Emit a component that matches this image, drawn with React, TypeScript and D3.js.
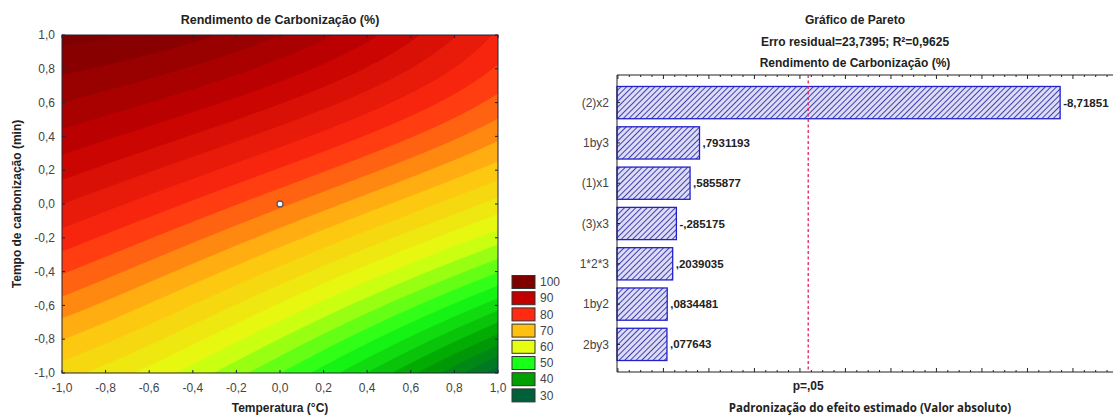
import React, { useMemo } from 'react';
import * as d3 from 'd3';

const W = 1113;
const H = 418;

// surface values at T = -1, 0, 1 (columns) and t = 1, 0, -1 (rows)
const surfaceTop = [101, 95, 82];
const surfaceMid = [85, 75.5, 64];
const surfaceBottom = [66, 52.5, 31];
const legendLevels = [100, 90, 80, 70, 60, 50, 40, 30];
const legendColors = ['#800000', '#c20000', '#ff2a10', '#ffc010', '#e4ff10', '#18ff18', '#00a000', '#00603a'];
const axisTicks = [-1, -0.8, -0.6, -0.4, -0.2, 0, 0.2, 0.4, 0.6, 0.8, 1];
const centerPoint = [0, 0];

const paretoLabels = ['(2)x2', '1by3', '(1)x1', '(3)x3', '1*2*3', '1by2', '2by3'];
const paretoValues = [-8.71851, 0.7931193, 0.5855877, -0.285175, 0.2039035, 0.0834481, 0.077643];
const pCritical = 3.182;
const paretoDomain = [-1.02, 10.1];
const paretoTitles = ['Gráfico de Pareto', 'Erro residual=23,7395; R²=0,9625', 'Rendimento de Carbonização (%)'];

const FONT = '"Liberation Sans", Arial, sans-serif';

// quadratic Lagrange weights for nodes -1, 0, 1
function lw(x: number) {
  return [(x * (x - 1)) / 2, 1 - x * x, (x * (x + 1)) / 2];
}

function surface(T: number, t: number) {
  const rows = [surfaceBottom, surfaceMid, surfaceTop]; // t = -1, 0, 1
  const wt = lw(t);
  const wT = lw(T);
  let s = 0;
  for (let a = 0; a < 3; a++) for (let b = 0; b < 3; b++) s += wt[a] * wT[b] * rows[a][b];
  return s;
}

function fmtTick(v: number) {
  return d3.format('.1f')(v).replace('−', '-').replace('.', ',');
}

function statFmt(v: number) {
  const neg = v < 0;
  let s = String(Math.abs(v));
  if (s.startsWith('0.')) s = s.slice(1);
  s = s.replace('.', ',');
  return (neg ? '-' : '') + s;
}

export default function App() {
  // ---------- left: contour plot ----------
  const L = { x0: 62, x1: 498, y0: 35, y1: 373 };
  const xs = d3.scaleLinear().domain([-1, 1]).range([L.x0, L.x1]);
  const ys = d3.scaleLinear().domain([-1, 1]).range([L.y1, L.y0]);

  const color = d3
    .scaleLinear<string>()
    .domain([...legendLevels].reverse())
    .range([...legendColors].reverse())
    .interpolate(d3.interpolateRgb)
    .clamp(true);

  const bands = useMemo(() => {
    const n = 160;
    const m = 160;
    const vals = new Array(n * m);
    for (let j = 0; j < m; j++) {
      const t = 1 - (2 * (j + 0.5)) / m;
      for (let i = 0; i < n; i++) {
        const T = -1 + (2 * (i + 0.5)) / n;
        vals[j * n + i] = surface(T, t);
      }
    }
    const step = 2.5;
    const th = d3.range(0, 130, step);
    const cs = d3.contours().size([n, m]).thresholds(th)(vals);
    const w = L.x1 - L.x0;
    const h = L.y1 - L.y0;
    const proj = d3.geoTransform({
      point: function (x: number, y: number) {
        (this as any).stream.point(L.x0 + (x * w) / n, L.y0 + (y * h) / m);
      },
    });
    const path = d3.geoPath(proj);
    return cs.map((c) => ({ d: path(c as any) || '', fill: color(c.value + step / 2) }));
  }, []);

  // ---------- right: pareto ----------
  const P = { x0: 617, x1: 1123, y0: 75, y1: 372 };
  const px = d3.scaleLinear().domain(paretoDomain).range([P.x0, P.x1]);
  const py = d3
    .scaleBand<string>()
    .domain(paretoLabels)
    .range([P.y0, P.y1])
    .paddingInner(0.2)
    .paddingOuter(0.285);
  const majorTicks = d3.range(-1, 11, 1);
  const minorTicks = d3.range(-1, 10.5, 0.25).filter((v) => Math.abs(v - Math.round(v)) > 1e-6);
  const tcx = (P.x0 + P.x1) / 2;

  return (
    <div style={{ position: 'absolute', left: 0, top: 0 }}>
      <svg width={W} height={H} style={{ display: 'block', background: '#fff' }}>
        <defs>
          <clipPath id="plotClip">
            <rect x={L.x0} y={L.y0} width={L.x1 - L.x0} height={L.y1 - L.y0} />
          </clipPath>
          <clipPath id="svgClip">
            <rect x={0} y={0} width={W} height={H} />
          </clipPath>
          <pattern id="hatch" patternUnits="userSpaceOnUse" width="4" height="4" patternTransform="rotate(45)">
            <rect width="4" height="4" fill="#dcdcf4" />
            <line x1="0" y1="0" x2="0" y2="4" stroke="#3838b0" strokeWidth="1.9" />
          </pattern>
        </defs>

        {/* Left chart */}
        <text x={(L.x0 + L.x1) / 2} y={24} textAnchor="middle" fontFamily={FONT} fontWeight="bold" fontSize={12.5} fill="#222">
          Rendimento de Carbonização (%)
        </text>
        <g clipPath="url(#plotClip)">
          {bands.map((b, i) => (
            <path key={i} d={b.d} fill={b.fill} stroke={b.fill} strokeWidth={0.6} />
          ))}
        </g>
        <rect x={L.x0} y={L.y0} width={L.x1 - L.x0} height={L.y1 - L.y0} fill="none" stroke="#223" strokeWidth={1} />
        {axisTicks.map((v) => (
          <g key={'xt' + v}>
            <line x1={xs(v)} x2={xs(v)} y1={L.y1} y2={L.y1 - 3} stroke="#223" />
            <line x1={xs(v)} x2={xs(v)} y1={L.y0} y2={L.y0 + 3} stroke="#223" />
            <text x={xs(v)} y={L.y1 + 19} textAnchor="middle" fontFamily={FONT} fontSize={12} fill="#444">
              {fmtTick(v)}
            </text>
          </g>
        ))}
        {axisTicks.map((v) => (
          <g key={'yt' + v}>
            <line x1={L.x0} x2={L.x0 + 3} y1={ys(v)} y2={ys(v)} stroke="#223" />
            <line x1={L.x1} x2={L.x1 - 3} y1={ys(v)} y2={ys(v)} stroke="#223" />
            <text x={L.x0 - 7} y={ys(v)} dy="0.35em" textAnchor="end" fontFamily={FONT} fontSize={12} fill="#444">
              {fmtTick(v)}
            </text>
          </g>
        ))}
        <circle cx={xs(centerPoint[0])} cy={ys(centerPoint[1])} r={3} fill="#fff" stroke="#556" strokeWidth={1.3} />
        <text x={(L.x0 + L.x1) / 2} y={412} textAnchor="middle" fontFamily={FONT} fontWeight="bold" fontSize={12} fill="#222">
          Temperatura (°C)
        </text>
        <text
          transform={`translate(17,${(L.y0 + L.y1) / 2}) rotate(-90)`}
          textAnchor="middle"
          dy="0.35em"
          fontFamily={FONT}
          fontWeight="bold"
          fontSize={12}
          fill="#222"
        >
          Tempo de carbonização (min)
        </text>
        {/* legend */}
        {legendLevels.map((lv, i) => {
          const cy = 282 + i * 16.2;
          return (
            <g key={'lg' + lv}>
              <rect x={512} y={cy - 6.5} width={23} height={13} fill={legendColors[i]} stroke="#333" strokeWidth={1} />
              <text x={540} y={cy} dy="0.35em" fontFamily={FONT} fontSize={12} fill="#444">
                {lv}
              </text>
            </g>
          );
        })}

        {/* Right chart */}
        {paretoTitles.map((t, i) => (
          <text key={t} x={855} y={24 + i * 21.5} textAnchor="middle" fontFamily={FONT} fontWeight="bold" fontSize={12} fill="#222">
            {t}
          </text>
        ))}
        <g clipPath="url(#svgClip)">
          {paretoLabels.map((lab, i) => {
            const v = paretoValues[i];
            const y = py(lab)!;
            const x1 = px(Math.abs(v));
            return (
              <g key={lab}>
                <rect x={P.x0} y={y} width={x1 - P.x0} height={py.bandwidth()} fill="url(#hatch)" stroke="#2222cc" strokeWidth={1.3} />
                <text x={P.x0 - 8} y={y + py.bandwidth() / 2} dy="0.35em" textAnchor="end" fontFamily={FONT} fontSize={12} fill="#444">
                  {lab}
                </text>
                <text x={x1 + 3} y={y + py.bandwidth() / 2} dy="0.35em" fontFamily={FONT} fontWeight="bold" fontSize={11.5} fill="#222">
                  {statFmt(v)}
                </text>
                <line x1={P.x0} x2={P.x0 + 3} y1={y + py.bandwidth() / 2} y2={y + py.bandwidth() / 2} stroke="#222" />
              </g>
            );
          })}
          <line x1={P.x0} x2={P.x1} y1={P.y0} y2={P.y0} stroke="#222" strokeWidth={1} />
          <line x1={P.x0} x2={P.x1} y1={P.y1} y2={P.y1} stroke="#222" strokeWidth={1} />
          <line x1={P.x0} x2={P.x0} y1={P.y0} y2={P.y1} stroke="#222" strokeWidth={1} />
          {majorTicks.map((v) => (
            <g key={'mt' + v}>
              <line x1={px(v)} x2={px(v)} y1={P.y1} y2={P.y1 - 4} stroke="#222" />
              <line x1={px(v)} x2={px(v)} y1={P.y0} y2={P.y0 + 4} stroke="#222" />
            </g>
          ))}
          {minorTicks.map((v) => (
            <g key={'nt' + v}>
              <line x1={px(v)} x2={px(v)} y1={P.y1} y2={P.y1 - 2} stroke="#222" />
              <line x1={px(v)} x2={px(v)} y1={P.y0} y2={P.y0 + 2} stroke="#222" />
            </g>
          ))}
        </g>
        <line x1={px(pCritical)} x2={px(pCritical)} y1={P.y0} y2={P.y1} stroke="#e0245a" strokeWidth={1.3} strokeDasharray="3,2.5" />
        <text x={px(pCritical)} y={390} textAnchor="middle" fontFamily={FONT} fontWeight="bold" fontSize={12} fill="#222">
          p=,05
        </text>
        <text x={tcx} y={412} textAnchor="middle" fontFamily='"Open Sans", sans-serif' fontWeight="bold" fontSize={11.5} fill="#222">
          Padronização do efeito estimado (Valor absoluto)
        </text>
      </svg>
    </div>
  );
}
